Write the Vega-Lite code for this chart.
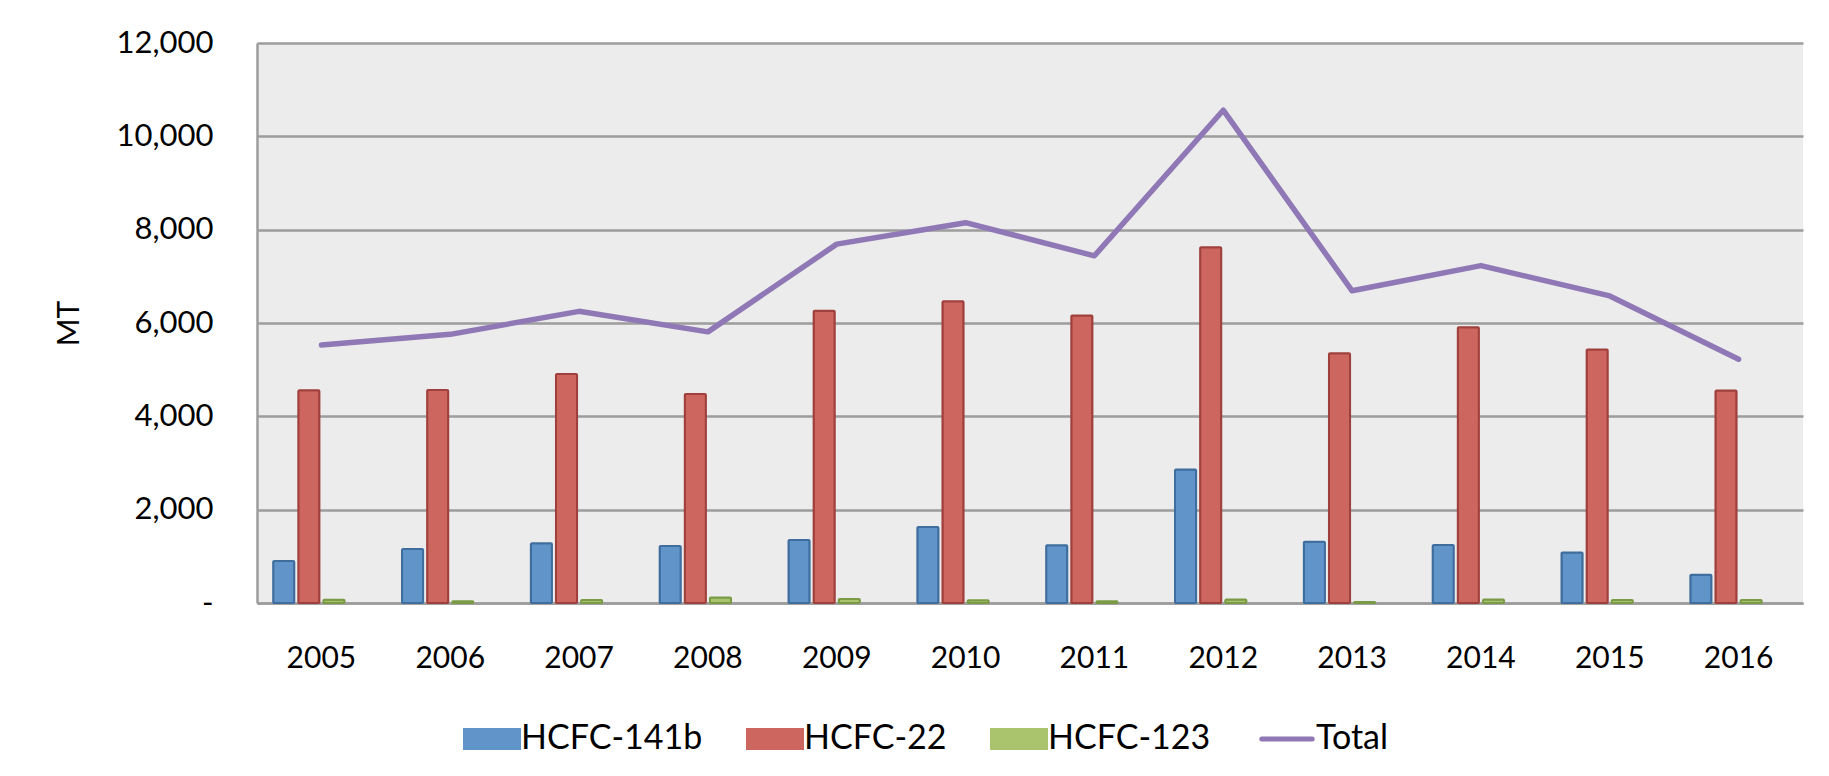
{
  "$schema": "https://vega.github.io/schema/vega-lite/v6.json",
  "width": 1546,
  "height": 560,
  "autosize": {"type": "none"},
  "padding": {"left": 257, "top": 43, "right": 26, "bottom": 173},
  "background": "white",
  "config": {
    "font": "Lato",
    "view": {"fill": "#ececec", "stroke": null}
  },
  "data": {
    "values": [
      {"year": "2005", "series": "HCFC-141b", "value": 900},
      {"year": "2005", "series": "HCFC-22", "value": 4557},
      {"year": "2005", "series": "HCFC-123", "value": 71},
      {"year": "2005", "series": "Total", "value": 5528},
      {"year": "2006", "series": "HCFC-141b", "value": 1157},
      {"year": "2006", "series": "HCFC-22", "value": 4564},
      {"year": "2006", "series": "HCFC-123", "value": 36},
      {"year": "2006", "series": "Total", "value": 5757},
      {"year": "2007", "series": "HCFC-141b", "value": 1279},
      {"year": "2007", "series": "HCFC-22", "value": 4907},
      {"year": "2007", "series": "HCFC-123", "value": 64},
      {"year": "2007", "series": "Total", "value": 6250},
      {"year": "2008", "series": "HCFC-141b", "value": 1221},
      {"year": "2008", "series": "HCFC-22", "value": 4479},
      {"year": "2008", "series": "HCFC-123", "value": 118},
      {"year": "2008", "series": "Total", "value": 5810},
      {"year": "2009", "series": "HCFC-141b", "value": 1350},
      {"year": "2009", "series": "HCFC-22", "value": 6264},
      {"year": "2009", "series": "HCFC-123", "value": 85},
      {"year": "2009", "series": "Total", "value": 7690},
      {"year": "2010", "series": "HCFC-141b", "value": 1629},
      {"year": "2010", "series": "HCFC-22", "value": 6464},
      {"year": "2010", "series": "HCFC-123", "value": 60},
      {"year": "2010", "series": "Total", "value": 8150},
      {"year": "2011", "series": "HCFC-141b", "value": 1240},
      {"year": "2011", "series": "HCFC-22", "value": 6162},
      {"year": "2011", "series": "HCFC-123", "value": 37},
      {"year": "2011", "series": "Total", "value": 7440},
      {"year": "2012", "series": "HCFC-141b", "value": 2863},
      {"year": "2012", "series": "HCFC-22", "value": 7624},
      {"year": "2012", "series": "HCFC-123", "value": 74},
      {"year": "2012", "series": "Total", "value": 10560},
      {"year": "2013", "series": "HCFC-141b", "value": 1314},
      {"year": "2013", "series": "HCFC-22", "value": 5351},
      {"year": "2013", "series": "HCFC-123", "value": 22},
      {"year": "2013", "series": "Total", "value": 6690},
      {"year": "2014", "series": "HCFC-141b", "value": 1241},
      {"year": "2014", "series": "HCFC-22", "value": 5910},
      {"year": "2014", "series": "HCFC-123", "value": 74},
      {"year": "2014", "series": "Total", "value": 7230},
      {"year": "2015", "series": "HCFC-141b", "value": 1082},
      {"year": "2015", "series": "HCFC-22", "value": 5432},
      {"year": "2015", "series": "HCFC-123", "value": 64},
      {"year": "2015", "series": "Total", "value": 6580},
      {"year": "2016", "series": "HCFC-141b", "value": 605},
      {"year": "2016", "series": "HCFC-22", "value": 4552},
      {"year": "2016", "series": "HCFC-123", "value": 64},
      {"year": "2016", "series": "Total", "value": 5225}
    ]
  },
  "encoding": {
    "x": {
      "field": "year",
      "type": "ordinal",
      "scale": {"paddingInner": 0.22, "paddingOuter": 0.11},
      "axis": {
        "title": null,
        "labelAngle": 0,
        "labelFontSize": 30,
        "labelColor": "#000000",
        "labelPadding": 40,
        "ticks": false,
        "tickSize": 0,
        "domain": true,
        "domainColor": "#9d9d9d",
        "domainWidth": 2.5,
        "grid": false
      }
    }
  },
  "layer": [
    {
      "transform": [{"filter": "datum.series !== 'Total'"}],
      "mark": {"type": "bar", "strokeWidth": 2, "cornerRadius": 1},
      "encoding": {
        "xOffset": {
          "field": "series",
          "scale": {"domain": ["HCFC-141b", "HCFC-22", "HCFC-123", "Total"], "paddingInner": 0.16, "paddingOuter": 0.08}
        },
        "y": {
          "field": "value",
          "type": "quantitative",
          "scale": {"domain": [0, 12000], "nice": false},
          "axis": {
            "values": [0, 2000, 4000, 6000, 8000, 10000, 12000],
            "labelExpr": "datum.value == 0 ? '-' : format(datum.value, ',')",
            "labelFontSize": 31,
            "labelColor": "#000000",
            "labelPadding": 44,
            "ticks": false,
            "tickSize": 0,
            "domain": true,
            "domainColor": "#9d9d9d",
            "domainWidth": 2.5,
            "grid": true,
            "gridColor": "#9d9d9d",
            "gridWidth": 2.5,
            "title": "MT",
            "titleFontSize": 30,
            "titleFontWeight": "normal",
            "titleColor": "#000000",
            "titlePadding": 32
          }
        },
        "color": {
          "field": "series",
          "type": "nominal",
          "scale": {
            "domain": ["HCFC-141b", "HCFC-22", "HCFC-123", "Total"],
            "range": ["#6195c9", "#cd665f", "#a9c46c", "#8f78b5"]
          },
          "legend": {
            "orient": "none",
            "legendX": 218,
            "legendY": 679,
            "direction": "horizontal",
            "columns": 4,
            "gridAlign": "each",
            "columnPadding": 40,
            "title": null,
            "padding": 0,
            "labelFontSize": 34,
            "labelColor": "#000000",
            "labelOffset": 12,
            "labelLimit": 400,
            "symbolSize": 3136,
            "encode": {
              "symbols": {
                "update": {
                  "shape": {"signal": "datum.value === 'Total' ? 'M-0.9,0H0.9' : 'M-1,-0.36H1V0.36H-1Z'"},
                  "fill": {"signal": "datum.value === 'Total' ? 'transparent' : datum.value === 'HCFC-141b' ? '#6195c9' : datum.value === 'HCFC-22' ? '#cd665f' : '#a9c46c'"},
                  "stroke": {"signal": "datum.value === 'Total' ? '#8f78b5' : datum.value === 'HCFC-141b' ? '#3f6d9e' : datum.value === 'HCFC-22' ? '#a0403c' : '#7b9a46'"},
                  "strokeWidth": {"signal": "datum.value === 'Total' ? 5 : 2"},
                  "strokeCap": {"value": "round"},
                  "opacity": {"value": 1},
                  "fillOpacity": {"value": 1}
                }
              }
            }
          }
        },
        "stroke": {
          "field": "series",
          "type": "nominal",
          "scale": {
            "domain": ["HCFC-141b", "HCFC-22", "HCFC-123"],
            "range": ["#3f6d9e", "#a0403c", "#7b9a46"]
          },
          "legend": null
        }
      }
    },
    {
      "transform": [{"filter": "datum.series === 'Total'"}],
      "mark": {"type": "line", "strokeWidth": 5.5, "strokeCap": "round", "strokeJoin": "round"},
      "encoding": {
        "y": {"field": "value", "type": "quantitative"},
        "color": {"field": "series", "type": "nominal"}
      }
    }
  ]
}
